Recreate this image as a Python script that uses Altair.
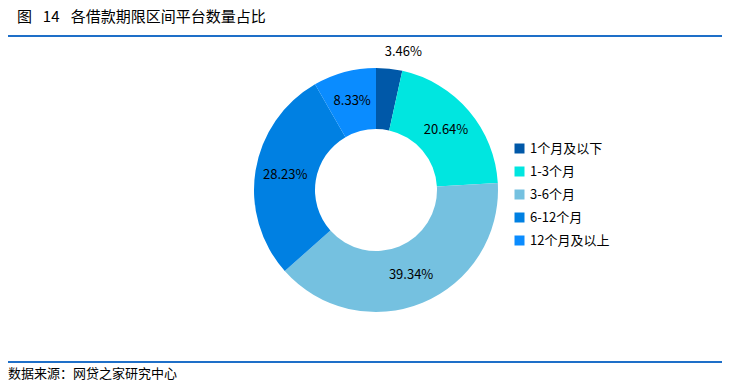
import altair as alt
import pandas as pd

categories = ["1个月及以下", "1-3个月", "3-6个月", "6-12个月", "12个月及以上"]
shares = [3.46, 20.64, 39.34, 28.23, 8.33]
labels = ["3.46%", "20.64%", "39.34%", "28.23%", "8.33%"]
colors = ["#0058A8", "#00E6E0", "#75C1E0", "#0080E2", "#0A8CFF"]

title_text = "图\u2002 14\u2002\u2005各借款期限区间平台数量占比"
source_text = "数据来源：网贷之家研究中心"

df = pd.DataFrame({
    "cat": categories,
    "share": shares,
    "label": labels,
    "order": list(range(len(categories))),
})

FONT = "Noto Sans CJK SC"
CX, CY = 368, 182

base = alt.Chart(df).encode(
    theta=alt.Theta("share:Q", stack=True),
    order=alt.Order("order:Q"),
    x=alt.value(CX),
    y=alt.value(CY),
)

arcs = base.mark_arc(innerRadius=61, outerRadius=122, strokeWidth=0).encode(
    color=alt.Color(
        "cat:N",
        scale=alt.Scale(domain=categories, range=colors),
        sort=categories,
        legend=alt.Legend(
            title=None,
            orient="none",
            legendX=505,
            legendY=134,
            symbolType="square",
            symbolSize=100,
            symbolStrokeWidth=0,
            labelFont=FONT,
            labelFontSize=13,
            labelColor="#000000",
            rowPadding=9,
            labelOffset=4,
        ),
    )
)

inner_labels = base.mark_text(
    radius=92, font=FONT, fontSize=13, color="#000000"
).encode(text=alt.condition(alt.datum.order > 0, "label:N", alt.value("")))

outer_labels = base.mark_text(
    radius=141, dx=12, dy=2, font=FONT, fontSize=13, color="#000000"
).encode(text=alt.condition(alt.datum.order == 0, "label:N", alt.value("")))

one = pd.DataFrame({"t": [title_text], "s": [source_text]})

title = alt.Chart(one).mark_text(
    align="left", baseline="middle", font=FONT, fontSize=15, color="#000000"
).encode(text="t:N", x=alt.value(9), y=alt.value(9))

source = alt.Chart(one).mark_text(
    align="left", baseline="middle", font=FONT, fontSize=13, color="#000000"
).encode(text="s:N", x=alt.value(0), y=alt.value(366))

top_line = alt.Chart(one).mark_rule(color="#1E6FC8", strokeWidth=2).encode(
    x=alt.value(0), x2=alt.value(714), y=alt.value(28)
)
bottom_line = alt.Chart(one).mark_rule(color="#1E6FC8", strokeWidth=2).encode(
    x=alt.value(0), x2=alt.value(714), y=alt.value(354)
)

chart = alt.layer(
    arcs, inner_labels, outer_labels, title, source, top_line, bottom_line
).properties(
    width=716, height=376,
    autosize=alt.AutoSizeParams(type="none"),
    padding=0,
    background="#FFFFFF",
).configure_view(strokeWidth=0, stroke="transparent")

chart.save("out.html", embed_options={"renderer": "svg", "actions": False})
